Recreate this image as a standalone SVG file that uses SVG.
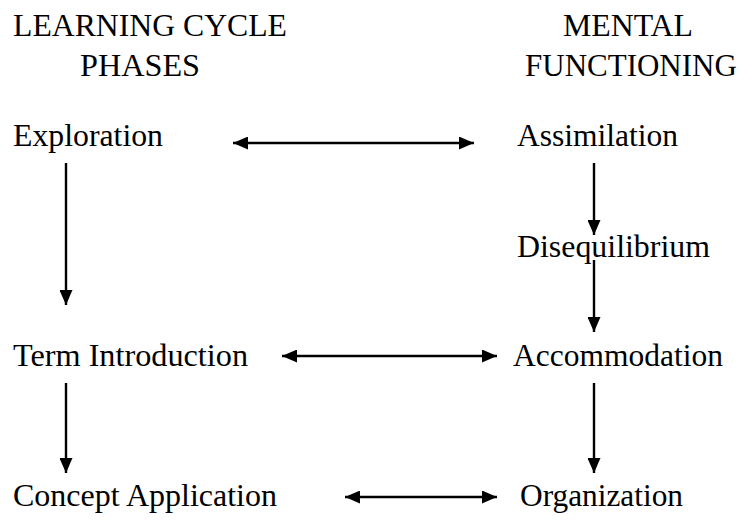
<svg xmlns="http://www.w3.org/2000/svg" width="742" height="522" viewBox="0 0 742 522">
<style>
text{font-family:"Liberation Serif","Times New Roman",Times,serif;font-size:32px;fill:#000}
.c{stroke:#000;stroke-width:2.4;fill:none}
</style>
<defs>
<marker id="ah" viewBox="0 0 15 13" refX="15" refY="6.5" markerWidth="15" markerHeight="13" markerUnits="userSpaceOnUse" orient="auto-start-reverse">
<path d="M0,0 L15,6.5 L0,13 Z" fill="#000"/>
</marker>
</defs>
<rect width="742" height="522" fill="#fff"/>
<g id="header-left"><text x="13" y="36" textLength="274" lengthAdjust="spacingAndGlyphs">LEARNING CYCLE</text><text x="80" y="76" textLength="120" lengthAdjust="spacingAndGlyphs">PHASES</text></g>
<g id="header-right"><text x="563" y="36" textLength="130" lengthAdjust="spacingAndGlyphs">MENTAL</text><text x="525" y="76" style="font-size:31px">FUNCTIONING</text></g>
<g id="exploration"><text x="13" y="146" textLength="150" lengthAdjust="spacingAndGlyphs">Exploration</text></g>
<g id="assimilation"><text x="517" y="146" textLength="161" lengthAdjust="spacingAndGlyphs">Assimilation</text></g>
<g id="disequilibrium"><text x="517" y="257" textLength="193" lengthAdjust="spacingAndGlyphs">Disequilibrium</text></g>
<g id="term-introduction"><text x="13" y="366" textLength="235" lengthAdjust="spacingAndGlyphs">Term Introduction</text></g>
<g id="accommodation"><text x="513" y="366" textLength="210" lengthAdjust="spacingAndGlyphs">Accommodation</text></g>
<g id="concept-application"><text x="13" y="506" textLength="264" lengthAdjust="spacingAndGlyphs">Concept Application</text></g>
<g id="organization"><text x="520" y="506" textLength="163" lengthAdjust="spacingAndGlyphs">Organization</text></g>
<g id="connectors" class="c">
<line x1="233" y1="143" x2="474" y2="143" marker-start="url(#ah)" marker-end="url(#ah)"/>
<line x1="282" y1="356" x2="497" y2="356" marker-start="url(#ah)" marker-end="url(#ah)"/>
<line x1="345" y1="497" x2="497" y2="497" marker-start="url(#ah)" marker-end="url(#ah)"/>
<line x1="66" y1="163" x2="66" y2="305" marker-end="url(#ah)"/>
<line x1="66" y1="383" x2="66" y2="473" marker-end="url(#ah)"/>
<line x1="594" y1="163" x2="594" y2="235" marker-end="url(#ah)"/>
<line x1="594" y1="260" x2="594" y2="332" marker-end="url(#ah)"/>
<line x1="594" y1="383" x2="594" y2="473" marker-end="url(#ah)"/>
</g>
</svg>
